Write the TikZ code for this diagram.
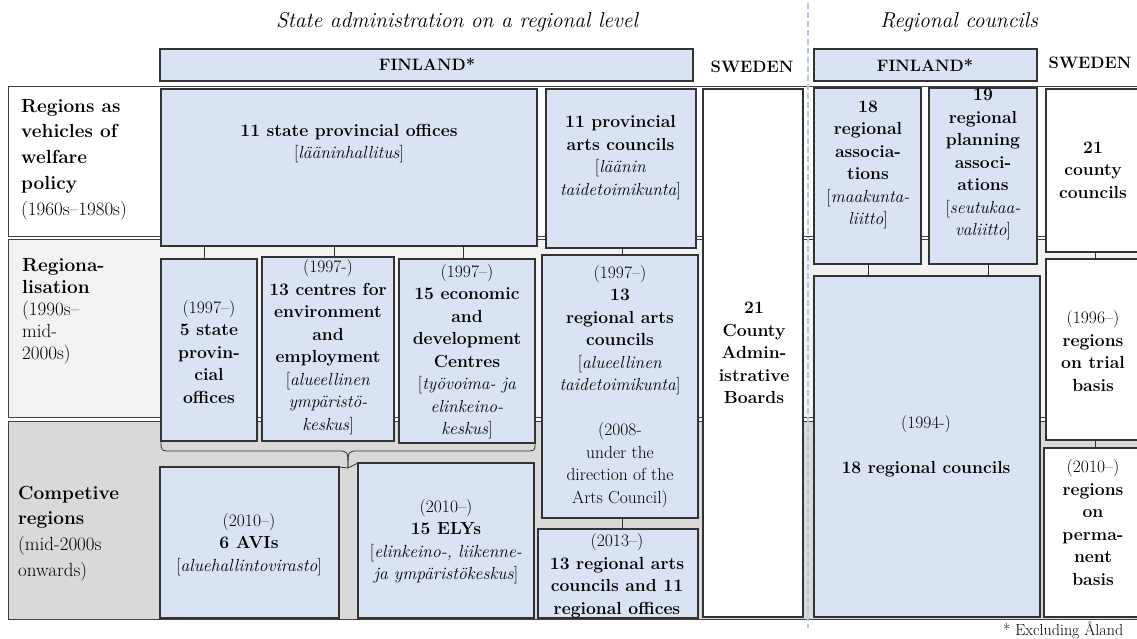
\documentclass[tikz,border=0pt]{standalone}
\usepackage{fontspec}
\usetikzlibrary{fit,shadows}

\definecolor{boxblue}{HTML}{DAE3F3}
\definecolor{bandmid}{HTML}{F2F2F2}
\definecolor{banddark}{HTML}{D9D9D9}
\definecolor{edge}{HTML}{333333}
\definecolor{sepline}{HTML}{B4C7E7}

\tikzset{
  unit/.style={draw=edge, line width=1.1pt, inner sep=0pt, outer sep=0pt},
  shade/.style={drop shadow={shadow xshift=1.4pt, shadow yshift=-1.4pt, fill=black!45, opacity=0.7}},
  bluebox/.style={unit, fill=boxblue, shade},
  whitebox/.style={unit, fill=white, shade},
  band/.style={draw=black!75, line width=0.9pt, inner sep=0pt, outer sep=0pt},
  body/.style={align=center, inner sep=0pt, font=\fontsize{17.5}{22.5}\selectfont},
  rowlabel/.style={align=left, anchor=west, inner sep=0pt},
  head/.style={inner sep=0pt, font=\fontsize{16.5}{20}\selectfont\bfseries},
  title/.style={inner sep=0pt, anchor=base, font=\fontsize{21.5}{26}\selectfont\itshape},
  link/.style={draw=edge, line width=0.9pt},
}

\begin{document}
\begin{tikzpicture}[x=1pt, y=-1pt]
\useasboundingbox (0,0) rectangle (1137,639);

% column titles
\node[title] (ttlstate) at (457,28) {State administration on a regional level};
\node[title] (ttlreg) at (959,28) {Regional councils};

% country headers
\node[unit, fill=boxblue, fit={(160,49) (693,81)}] (fin1) {};
\node[head] (fin1t) at (427,64) {FINLAND*};
\node[head] (swe1h) at (752,67) {SWEDEN};
\node[unit, fill=boxblue, fit={(814,49) (1037,81)}] (fin2) {};
\node[head] (fin2t) at (925,65) {FINLAND*};
\node[head] (swe2h) at (1090,63) {SWEDEN};

% period bands
\node[band, fill=white, fit={(8,86) (1160,236)}] (band1) {};
\node[band, fill=bandmid, fit={(8,239) (1160,417)}] (band2) {};
\node[band, fill=banddark, fit={(8,421) (1160,619)}] (band3) {};

% divider between the two halves
\draw[sepline, line width=1.2pt, dash pattern=on 6pt off 3pt] (808,3) -- (808,628);

% period labels
\node[rowlabel, font=\fontsize{19}{25.7}\selectfont] (lab1) at (21,159.5)
  {\textbf{Regions as}\\ \textbf{vehicles of}\\ \textbf{welfare}\\ \textbf{policy}\\ (1960s–1980s)};
\node[rowlabel, font=\fontsize{19}{22}\selectfont] (lab2) at (22,311)
  {\textbf{Regiona-}\\ \textbf{lisation}\\ (1990s–\\ mid-\\ 2000s)};
\node[rowlabel, font=\fontsize{19}{25.7}\selectfont] (lab3) at (18,533.5)
  {\textbf{Competive}\\ \textbf{regions}\\ (mid-2000s\\ onwards)};

% ---- boxes ----
\node[bluebox, fit={(161,89) (537,246)}] (spo) {};
\node[bluebox, fit={(546,89) (696,248)}] (pac) {};
\node[whitebox, fit={(703,89) (803,617)}] (swe1) {};
\node[bluebox, fit={(814,88) (921,264)}] (ra18) {};
\node[bluebox, fit={(929,88) (1037,264)}] (rpa19) {};
\node[whitebox, fit={(1046,89) (1160,252)}] (cc21) {};

\node[bluebox, fit={(161,259) (257,441)}] (sp5) {};
\node[bluebox, fit={(262,257) (394,441)}] (cen13) {};
\node[bluebox, fit={(399,259) (535,443)}] (eco15) {};
\node[bluebox, fit={(542,255) (698,518)}] (ra13) {};
\node[bluebox, fit={(814,276) (1040,617)}] (rc18) {};
\node[whitebox, fit={(1046,259) (1160,440)}] (trial) {};

\node[bluebox, fit={(160,467) (339,618)}] (avi) {};
\node[bluebox, fit={(358,463) (534,618)}] (ely) {};
\node[bluebox, fit={(538,529) (698,618)}] (ao13) {};
\node[whitebox, fit={(1044,448) (1160,617)}] (perm) {};

% ---- box texts ----
\node[body] (spot) at (349,143.5) {\textbf{11 state provincial offices}\\ {[}\textit{lääninhallitus}{]}};
\node[body] (pact) at (620.5,157.5) {\textbf{11 provincial}\\ \textbf{arts councils}\\ {[}\textit{läänin}\\ \textit{taidetoimikunta}{]}};
\node[body] (swe1t) at (754,353) {\textbf{21}\\ \textbf{County}\\ \textbf{Admin-}\\ \textbf{istrative}\\ \textbf{Boards}};
\node[body] (ra18t) at (868,165) {\textbf{18}\\ \textbf{regional}\\ \textbf{associa-}\\ \textbf{tions}\\ {[}\textit{maakunta-}\\ \textit{liitto}{]}};
\node[body] (rpa19t) at (983,164.5) {\textbf{19}\\ \textbf{regional}\\ \textbf{planning}\\ \textbf{associ-}\\ \textbf{ations}\\ {[}\textit{seutukaa-}\\ \textit{valiitto}{]}};
\node[body] (cc21t) at (1093,170) {\textbf{21}\\ \textbf{county}\\ \textbf{councils}};

\node[body] (sp5t) at (209,351.5) {(1997–)\\ \textbf{5 state}\\ \textbf{provin-}\\ \textbf{cial}\\ \textbf{offices}};
\node[body] (cen13t) at (328,347) {(1997-)\\ \textbf{13 centres for}\\ \textbf{environment}\\ \textbf{and}\\ \textbf{employment}\\ {[}\textit{alueellinen}\\ \textit{ympäristö-}\\ \textit{keskus}{]}};
\node[body] (eco15t) at (467,351.5) {(1997–)\\ \textbf{15 economic}\\ \textbf{and}\\ \textbf{development}\\ \textbf{Centres}\\ {[}\textit{työvoima- ja}\\ \textit{elinkeino-}\\ \textit{keskus}{]}};
\node[body] (ra13t) at (620,386.5) {(1997–)\\ \textbf{13}\\ \textbf{regional arts}\\ \textbf{councils}\\ {[}\textit{alueellinen}\\ \textit{taidetoimikunta}{]}\\[22.5pt] (2008-\\ under the\\ direction of the\\ Arts Council)};
\node[body] (rc18t) at (926,446) {(1994-)\\[22.5pt] \textbf{18 regional councils}};
\node[body] (trialt) at (1093,351) {(1996–)\\ \textbf{regions}\\ \textbf{on trial}\\ \textbf{basis}};

\node[body] (avit) at (249,544.5) {(2010–)\\ \textbf{6 AVIs}\\ {[}\textit{aluehallintovirasto}{]}};
\node[body] (elyt) at (446,541.5) {(2010–)\\ \textbf{15 ELYs}\\ {[}\textit{elinkeino-, liikenne-}\\ \textit{ja ympäristökeskus}{]}};
\node[body] (ao13t) at (617,575.5) {(2013–)\\ \textbf{13 regional arts}\\ \textbf{councils and 11}\\ \textbf{regional offices}};
\node[body] (permt) at (1093,522.5) {(2010–)\\ \textbf{regions}\\ \textbf{on}\\ \textbf{perma-}\\ \textbf{nent}\\ \textbf{basis}};

% ---- links between successive bodies ----
\draw[link] (spo.south -| 204,0) -- (sp5.north -| 204,0);
\draw[link] (spo.south -| 334,0) -- (cen13.north -| 334,0);
\draw[link] (spo.south -| 463,0) -- (eco15.north -| 463,0);
\draw[link] (pac.south -| 622,0) -- (ra13.north -| 622,0);
\draw[link] (ra13.south -| 622,0) -- (ao13.north -| 622,0);
\draw[link] (ra18.south -| 868,0) -- (rc18.north -| 868,0);
\draw[link] (rpa19.south -| 988,0) -- (rc18.north -| 988,0);
\draw[link] (cc21.south -| 1095,0) -- (trial.north -| 1095,0);
\draw[link] (trial.south -| 1095,0) -- (perm.north -| 1095,0);

% brace gathering the three 1997 bodies into AVIs and ELYs
\coordinate (tip) at (348,468);
\draw[link, line width=0.8pt] (sp5.south west) .. controls (161,451) .. (171,451) -- (338,451) .. controls (348,451) .. (tip);
\draw[link, line width=0.8pt] (eco15.south east) .. controls (535,451) .. (525,451) -- (358,451) .. controls (348,451) .. (tip);
\draw[link, line width=0.8pt] (avi.north east) -- (tip) -- (ely.north west);

% footnote
\node[anchor=west, inner sep=0pt, font=\fontsize{16}{18}\selectfont] (note) at (1003,630) {* Excluding Åland};
\end{tikzpicture}
\end{document}
